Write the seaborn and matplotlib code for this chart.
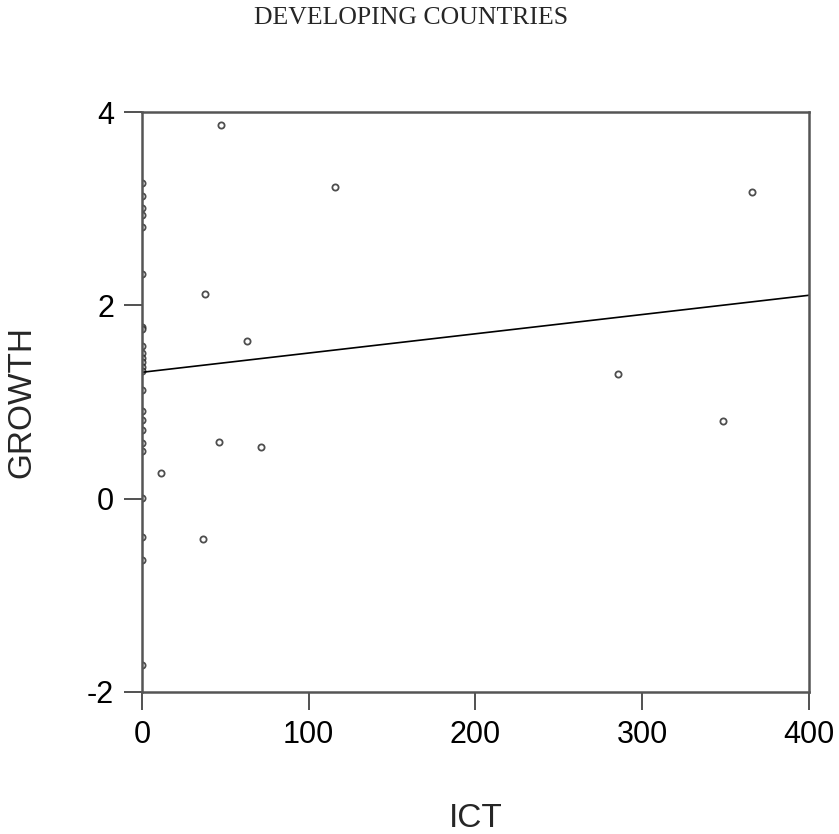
import numpy as np
import pandas as pd
import matplotlib
matplotlib.use('Agg')
import matplotlib.pyplot as plt
import seaborn as sns

# ICT / GROWTH, developing countries
ict = [0, 0, 0, 0, 0, 0, 0, 0, 0, 0, 0, 0, 0, 0, 0, 0, 0, 0, 0, 0, 0, 0, 0, 0,
       47.4, 115.7, 365.8, 37.8, 63.0, 285.5, 348.4, 11.4, 46.2, 71.4, 36.6]
growth = [3.27, 3.13, 3.01, 2.93, 2.81, 2.32, 1.78, 1.76, 1.58, 1.51, 1.46, 1.41,
          1.36, 1.32, 1.12, 0.91, 0.81, 0.71, 0.58, 0.49, 0.01, -0.40, -0.63, -1.72,
          3.87, 3.22, 3.17, 2.12, 1.63, 1.29, 0.80, 0.27, 0.59, 0.53, -0.42]
xticks = [0, 100, 200, 300, 400]
yticks = [-2, 0, 2, 4]

df = pd.DataFrame({'ICT': ict, 'GROWTH': growth})

sns.set_style('ticks')
plt.rcParams['font.family'] = ['Liberation Sans', 'DejaVu Sans']
plt.rcParams['axes.unicode_minus'] = False

fig = plt.figure(figsize=(8.39, 8.34), dpi=100)
ax = fig.add_axes([0.1692, 0.1703, 0.7950, 0.6954])
ax.set_xlim(0, 400)
ax.set_ylim(-2, 4)

sns.regplot(data=df, x='ICT', y='GROWTH', ci=None, truncate=False, ax=ax,
            scatter_kws={'s': 20, 'facecolors': 'white', 'edgecolors': '#222222', 'linewidths': 1.3},
            line_kws={'color': 'black', 'linewidth': 1.2})

ax.set_xlim(0, 400)
ax.set_ylim(-2, 4)
ax.set_xticks(xticks)
ax.set_yticks(yticks)
ax.tick_params(direction='out', length=13, width=1.2, colors='#333333', labelcolor='black',
               labelsize=22, pad=7)
for s in ax.spines.values():
    s.set_linewidth(1.8)
    s.set_color('#555555')

ax.set_xlabel('ICT', fontsize=24, labelpad=38)
ax.set_ylabel('GROWTH', fontsize=24, labelpad=36)
fig.text(0.49, 0.978, 'DEVELOPING COUNTRIES', ha='center', va='center',
         family='Liberation Serif', fontsize=18.5)

fig.savefig('out.png', dpi=100)
